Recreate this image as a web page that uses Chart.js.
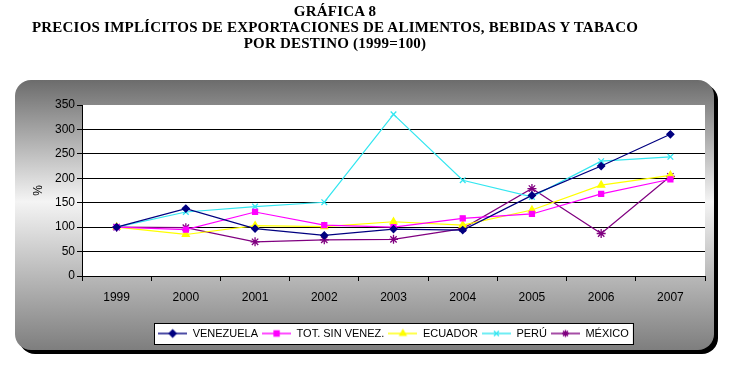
<!DOCTYPE html>
<html>
<head>
<meta charset="utf-8">
<script src="https://cdn.jsdelivr.net/npm/chart.js@4.4.1/dist/chart.umd.min.js"></script>
<style>
  html, body { margin: 0; padding: 0; background: #fff; }
  #wrap { position: relative; width: 737px; height: 366px; overflow: hidden; }
  .titulo {
    position: absolute; left: 0; width: 670px; text-align: center;
    font-family: "Liberation Serif", "Times New Roman", serif;
    font-weight: bold; font-size: 15px; line-height: 15px; color: #000;
    letter-spacing: 0.22px; white-space: nowrap;
  }
  #grafico { position: absolute; left: 0; top: 0; }
</style>
</head>
<body>
<div id="wrap">
  <canvas id="grafico" width="737" height="366"></canvas>
  <div class="titulo" style="top:4px">GRÁFICA 8</div>
  <div class="titulo" style="top:20px">PRECIOS IMPLÍCITOS DE EXPORTACIONES DE ALIMENTOS, BEBIDAS Y TABACO</div>
  <div class="titulo" style="top:36px">POR DESTINO (1999=100)</div>
</div>
<script>
// Datos
const anios = ['1999', '2000', '2001', '2002', '2003', '2004', '2005', '2006', '2007'];
const venezuela = [100, 138, 97, 83, 96, 94, 165, 225, 290];
const totSinVenez = [100, 95, 131, 104, 100, 118, 127, 168, 198];
const ecuador = [100, 85, 103, 101, 111, 104, 135, 186, 206];
const peru = [100, 131, 142, 151, 331, 196, 162, 235, 244];
const mexico = [100, 99, 70, 74, 75, 97, 179, 87, 204];
const ticksY = [0, 50, 100, 150, 200, 250, 300, 350];

// Icono de leyenda: línea con marcador
function iconoLeyenda(color, estilo) {
    const c = document.createElement('canvas');
    c.width = 29;
    c.height = 12;
    const ctx = c.getContext('2d');
    ctx.strokeStyle = color;
    ctx.lineWidth = 1.4;
    ctx.beginPath();
    ctx.moveTo(0, 6);
    ctx.lineTo(29, 6);
    ctx.stroke();
    Chart.helpers.drawPoint(ctx, {
        pointStyle: estilo, radius: 3.5, borderWidth: 1.3, rotation: 0
    }, 14.5, 6);
    ctx.fillStyle = color;
    if (estilo !== 'crossRot' && estilo !== 'star') ctx.fill();
    return c;
}

function serie(label, data, color, estilo, radio) {
    return {
        label: label,
        data: data,
        borderColor: color,
        backgroundColor: color,
        borderWidth: 1.2,
        pointStyle: estilo,
        pointRadius: radio,
        pointBorderWidth: 1.3,
        tension: 0,
        fill: false
    };
}

const datasets = [
    serie('VENEZUELA', venezuela, '#000080', 'rectRot', 3.5),
    serie('TOT. SIN VENEZ.', totSinVenez, '#ff00ff', 'rect', 3.5),
    serie('ECUADOR', ecuador, '#ffff00', 'triangle', 4),
    serie('PERÚ', peru, '#33e6f0', 'crossRot', 4),
    serie('MÉXICO', mexico, '#800080', 'star', 4.5)
];

// Fondo del panel, área blanca y recuadro de leyenda
const fondo = {
    id: 'fondo',
    beforeDraw(chart) {
        const ctx = chart.ctx;
        const a = chart.chartArea;
        ctx.save();
        // sombra negra
        ctx.fillStyle = '#000';
        ctx.beginPath();
        ctx.roundRect(19, 84, 699, 270, 16);
        ctx.fill();
        // panel con degradado
        const g = ctx.createLinearGradient(0, 80, 0, 350);
        g.addColorStop(0, '#6c6c6c');
        g.addColorStop(0.45, '#f4f4f4');
        g.addColorStop(1, '#7e7e7e');
        ctx.fillStyle = g;
        ctx.beginPath();
        ctx.roundRect(15, 80, 699, 270, 16);
        ctx.fill();
        // área de trazado
        ctx.fillStyle = '#fff';
        ctx.fillRect(a.left, a.top, a.right - a.left, a.bottom - a.top);
        // recuadro de leyenda
        const cajas = chart.legend.legendHitBoxes;
        if (cajas && cajas.length) {
            const x0 = Math.min(...cajas.map(b => b.left)) - 4;
            const x1 = Math.max(...cajas.map(b => b.left + b.width)) + 4;
            const y0 = Math.min(...cajas.map(b => b.top)) - 5;
            const y1 = Math.max(...cajas.map(b => b.top + b.height)) + 5;
            ctx.fillStyle = '#fff';
            ctx.fillRect(x0, y0, x1 - x0, y1 - y0);
            ctx.strokeStyle = '#000';
            ctx.lineWidth = 1;
            ctx.strokeRect(Math.round(x0) + 0.5, Math.round(y0) + 0.5, Math.round(x1 - x0), Math.round(y1 - y0));
        }
        ctx.restore();
    }
};

const fuente = { family: "'Liberation Sans', Arial, sans-serif", size: 11 };

new Chart(document.getElementById('grafico'), {
    type: 'line',
    data: { labels: anios, datasets: datasets },
    plugins: [fondo],
    options: {
        responsive: false,
        animation: false,
        events: [],
        layout: { padding: { left: 20, right: 32, top: 105, bottom: 17 } },
        plugins: {
            tooltip: { enabled: false },
            title: { display: false },
            legend: {
                display: true,
                position: 'bottom',
                fullSize: false,
                labels: {
                    font: fuente,
                    color: '#000',
                    usePointStyle: true,
                    pointStyleWidth: 29,
                    padding: 4,
                    generateLabels(chart) {
                        return chart.data.datasets.map((d, i) => ({
                            text: d.label,
                            fontColor: '#000',
                            pointStyle: iconoLeyenda(d.borderColor, d.pointStyle),
                            lineWidth: 0,
                            strokeStyle: 'transparent',
                            fillStyle: 'transparent',
                            datasetIndex: i,
                            hidden: false
                        }));
                    }
                }
            }
        },
        scales: {
            x: {
                offset: true,
                afterFit(s) { s.height = 48; },
                grid: {
                    offset: true,
                    drawOnChartArea: false,
                    drawTicks: true,
                    tickLength: 5,
                    color: '#000',
                    tickColor: '#000'
                },
                border: { color: '#000', width: 1 },
                ticks: { font: { ...fuente, size: 12 }, color: '#000', padding: 9, maxRotation: 0 }
            },
            y: {
                min: 0,
                max: 350,
                afterFit(s) { s.width = 62; },
                afterBuildTicks(s) { s.ticks = ticksY.map(v => ({ value: v })); },
                grid: {
                    color: ctx => (ctx.tick && ctx.tick.value === 350) ? 'rgba(0,0,0,0)' : '#000',
                    tickColor: '#000',
                    tickLength: 5,
                    lineWidth: 1
                },
                border: { color: '#000', width: 1 },
                ticks: { font: { ...fuente, size: 12 }, color: '#000', padding: 2 },
                title: {
                    display: true,
                    text: '%',
                    font: { ...fuente, size: 12 },
                    color: '#000',
                    padding: { top: 11, bottom: 0 }
                }
            }
        }
    }
});
</script>
</body>
</html>
